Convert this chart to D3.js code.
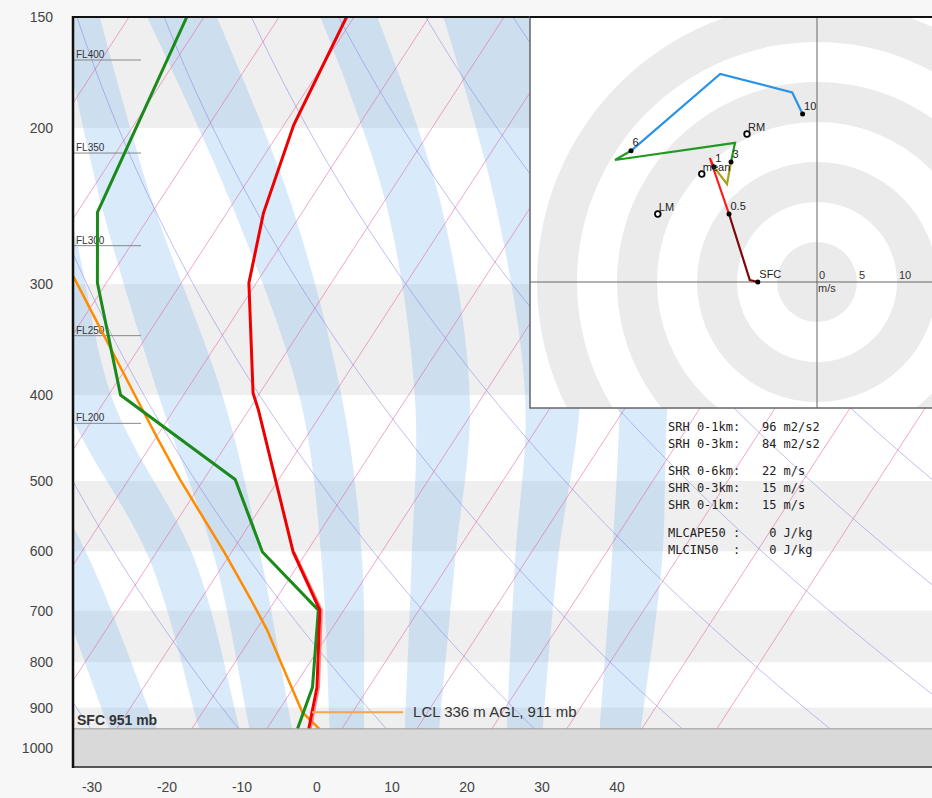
<!DOCTYPE html>
<html>
<head>
<meta charset="utf-8">
<script src="https://cdn.jsdelivr.net/npm/d3@7"></script>
<style>
  body { margin: 0; background: #f7f7f7; }
  text { font-family: Arial, "Liberation Sans", sans-serif; }
</style>
</head>
<body>
<svg id="chart" width="932" height="798"></svg>
<script>
// Axis ticks
var pressureTicks = [150, 200, 300, 400, 500, 600, 700, 800, 900, 1000];
var tempTicks = [-30, -20, -10, 0, 10, 20, 30, 40];
var stripePairs = [[150, 200], [300, 400], [500, 600], [700, 800], [900, 1000]];

// Sounding (hPa, degC)
var tempPressure = [150, 198.5, 249.5, 299, 398, 416, 601, 699, 854, 951];
var tempValues = [-61.0, -58.7, -55.1, -51.0, -40.9, -38.7, -21.8, -13.2, -6.9, -4.4];
var virtPressure = [601, 699, 854, 951];
var virtValues = [-21.6, -12.9, -6.6, -4.1];
var dewPressure = [150, 249, 299, 400, 498, 601, 699, 854, 951];
var dewValues = [-82.3, -77.3, -71.2, -58.4, -35.8, -25.9, -13.4, -7.5, -5.9];
var parcelPressure = [951, 911, 800, 736, 678, 600, 497, 447, 400, 290];
var parcelValues = [-3.0, -6.7, -13.9, -18.5, -23.5, -31.1, -43.3, -49.8, -56.5, -75.8];

var surfacePressure = 951;
var lclPressure = 911;
var lclText = "LCL 336 m AGL, 911 mb";

// Flight levels
var flNames = ["FL400", "FL350", "FL300", "FL250", "FL200"];
var flPressure = [167.7, 213.5, 271.5, 342.9, 430.5];

// Background lines
var isotherms = d3.range(-130, 60, 10);
var dryAdiabats = d3.range(-50, 250, 20);
// moist adiabat shading: edge temperatures (degC) at these pressures
var bandPressure = [150, 241.2, 405.2, 613.9, 951, 1050];
var bandLeft = [
  [-133.9, -107.4, -79.4, -54.2, -31.0, -25.6],
  [-115.2, -88.7, -65.4, -40.2, -19.0, -14.1],
  [-99.2, -78.0, -52.7, -31.5, -12.3, -7.9],
  [-87.6, -60.7, -34.0, -17.3, -1.6, 2.0],
  [-64.5, -40.0, -18.7, -5.3, 8.4, 11.5],
  [-48.1, -25.4, -4.0, 8.5, 22.0, 25.1],
  [-32.5, -8.7, 8.6, 21.4, 34.4, 37.4]
];
var bandRight = [
  [-128.5, -102.0, -73.4, -48.2, -24.7, -19.3],
  [-109.9, -82.7, -59.0, -34.2, -13.6, -8.9],
  [-93.9, -71.1, -44.2, -25.3, -6.6, -2.2],
  [-78.3, -52.7, -28.4, -11.9, 3.0, 6.5],
  [-56.9, -32.7, -11.4, 0.5, 13.0, 15.9],
  [-36.5, -14.7, 3.3, 14.2, 26.8, 29.7],
  [-19.2, 0.6, 15.0, 28.1, 39.9, 42.7]
];

// Hodograph (km, m/s)
var hodoHeight = [0, 0.1, 0.5, 0.95, 1, 2, 3, 4, 5, 6, 8, 9, 10];
var hodoU = [-7.4, -8.4, -11.0, -13.4, -12.9, -11.25, -10.75, -10.25, -25.25, -23.25, -12.1, -3.1, -1.8];
var hodoV = [0, 0.25, 8.5, 15.5, 14.4, 12.25, 15.0, 17.4, 15.25, 16.4, 26.0, 23.7, 21.0];
var hodoSegments = [[0, 0.5, "#7a0a0a"], [0.5, 1, "#ff1a1a"], [1, 3, "#a8a020"], [3, 6, "#209a20"], [6, 10, "#2a93e8"]];
var hodoMarks = [0, 0.5, 1, 3, 6, 10];
var hodoMarkLabels = ["SFC", "0.5", "1", "3", "6", "10"];
var stormNames = ["RM", "mean", "LM"];
var stormU = [-8.75, -14.4, -19.9];
var stormV = [18.5, 13.5, 8.5];
var ringSpeeds = [5, 10, 15, 20, 25, 30, 35, 40];
var ringLabels = [0, 5, 10];

var statLines = [
  ["SRH 0-1km:   96 m2/s2", 0],
  ["SRH 0-3km:   84 m2/s2", 1],
  ["SHR 0-6km:   22 m/s", 2.55],
  ["SHR 0-3km:   15 m/s", 3.55],
  ["SHR 0-1km:   15 m/s", 4.55],
  ["MLCAPE50 :    0 J/kg", 6.15],
  ["MLCIN50  :    0 J/kg", 7.15]
];

// ---- layout
var plotLeft = 73, plotTop = 17, plotBottom = 767, plotRight = 940;
var svg = d3.select("#chart");

var y = d3.scaleLog().domain([150, 1050]).range([plotTop, plotBottom]);
var x = d3.scaleLinear().domain([-30, 40]).range([92, 617]);
var skew = 1 / Math.tan(57 * Math.PI / 180);
function sx(t, p) { return x(t) + skew * (y(1050) - y(p)); }

svg.append("defs").append("clipPath").attr("id", "plotclip")
  .append("rect").attr("x", plotLeft).attr("y", plotTop)
  .attr("width", plotRight - plotLeft).attr("height", plotBottom - plotTop);

var plot = svg.append("g").attr("clip-path", "url(#plotclip)");

plot.append("rect").attr("x", plotLeft).attr("y", plotTop)
  .attr("width", plotRight - plotLeft).attr("height", plotBottom - plotTop)
  .style("fill", "#fff");

plot.selectAll(".stripe").data(stripePairs).enter().append("rect")
  .attr("x", plotLeft).attr("width", plotRight - plotLeft)
  .attr("y", d => y(d[0])).attr("height", d => y(d[1]) - y(d[0]))
  .style("fill", "#efefef");

var tpLine = d3.line().x(d => sx(d[0], d[1])).y(d => y(d[1]));
var bandEdge = d3.line().x(d => sx(d[0], d[1])).y(d => y(d[1])).curve(d3.curveCatmullRom);

// moist adiabat bands
plot.selectAll(".moist").data(bandLeft).enter().append("path")
  .attr("d", function(left, i) {
    var a = left.map((t, j) => [t, bandPressure[j]]);
    var b = bandRight[i].map((t, j) => [t, bandPressure[j]]).reverse();
    return bandEdge(a) + "L" + bandEdge(b).slice(1) + "Z";
  })
  .style("fill", "rgb(120,180,240)").style("fill-opacity", 0.28);

// isotherms
plot.selectAll(".iso").data(isotherms).enter().append("line")
  .attr("x1", d => sx(d, 1050)).attr("y1", y(1050))
  .attr("x2", d => sx(d, 150)).attr("y2", y(150))
  .style("stroke", "#e0609f").style("stroke-opacity", 0.55).style("stroke-width", 1);

// dry adiabats
plot.selectAll(".dry").data(dryAdiabats).enter().append("path")
  .attr("d", function(th) {
    var pts = d3.range(1050, 149, -10).map(function(p) {
      return [(th + 273.15) * Math.pow(p / 1000, 0.286) - 273.15, p];
    });
    return tpLine(pts);
  })
  .style("fill", "none").style("stroke", "#7f7fdf").style("stroke-opacity", 0.5).style("stroke-width", 1);

// flight levels
flPressure.forEach(function(p, i) {
  plot.append("line").attr("x1", plotLeft).attr("x2", 141).attr("y1", y(p)).attr("y2", y(p))
    .style("stroke", "#888").style("stroke-width", 1);
  plot.append("text").attr("x", 76).attr("y", y(p) - 2).text(flNames[i])
    .style("font-size", "10px").style("fill", "#333");
});

function profile(ps, ts) { return ps.map((p, i) => [ts[i], p]); }

plot.append("path").attr("d", tpLine(profile(parcelPressure, parcelValues)))
  .style("fill", "none").style("stroke", "#ff8c00").style("stroke-width", 2.5);
plot.append("path").attr("d", tpLine(profile(virtPressure, virtValues)))
  .style("fill", "none").style("stroke", "#ff6666").style("stroke-width", 1.5).style("stroke-opacity", 0.8);
plot.append("path").attr("d", tpLine(profile(dewPressure, dewValues)))
  .style("fill", "none").style("stroke", "#1a8a1a").style("stroke-width", 3);
plot.append("path").attr("d", tpLine(profile(tempPressure, tempValues)))
  .style("fill", "none").style("stroke", "#ee0000").style("stroke-width", 3);

// LCL marker
var lclTemp = d3.scaleLog().domain([854, 951]).range([-6.9, -4.4])(lclPressure);
var lclX = sx(lclTemp, lclPressure);
plot.append("line").attr("x1", lclX).attr("x2", lclX + 91)
  .attr("y1", y(lclPressure)).attr("y2", y(lclPressure))
  .style("stroke", "#f5a54a").style("stroke-width", 2);
plot.append("text").attr("x", lclX + 101).attr("y", y(lclPressure) + 5)
  .text(lclText).style("font-size", "15px").style("fill", "#333");

// ground
plot.append("rect").attr("x", plotLeft).attr("width", plotRight - plotLeft)
  .attr("y", y(surfacePressure)).attr("height", plotBottom - y(surfacePressure))
  .style("fill", "#d9d9d9").style("stroke", "#999").style("stroke-width", 1);
plot.append("text").attr("x", 77).attr("y", y(surfacePressure) - 4)
  .text("SFC " + surfacePressure + " mb")
  .style("font-size", "14px").style("font-weight", "bold").style("fill", "#333");

// stats
var stats = plot.append("g").attr("transform", "translate(668,431)");
stats.selectAll("text").data(statLines).enter().append("text")
  .attr("x", 0).attr("y", d => d[1] * 17.2)
  .style("white-space", "pre")
  .style("font-family", "'DejaVu Sans Mono', monospace").style("font-size", "12px").style("fill", "#222")
  .text(d => d[0]);

// borders
svg.append("line").attr("x1", plotLeft).attr("x2", 932).attr("y1", plotTop).attr("y2", plotTop)
  .style("stroke", "#111").style("stroke-width", 2);
svg.append("line").attr("x1", plotLeft).attr("x2", 932).attr("y1", plotBottom).attr("y2", plotBottom)
  .style("stroke", "#555").style("stroke-width", 2);
svg.append("line").attr("x1", plotLeft).attr("x2", plotLeft).attr("y1", plotTop - 1).attr("y2", plotBottom + 1)
  .style("stroke", "#111").style("stroke-width", 2.5);

// axes labels
svg.selectAll(".plab").data(pressureTicks).enter().append("text")
  .attr("x", 53).attr("y", d => y(d) + 5).attr("text-anchor", "end")
  .style("font-size", "14px").style("fill", "#444").text(d => d);
svg.selectAll(".tlab").data(tempTicks).enter().append("text")
  .attr("x", d => x(d)).attr("y", 792).attr("text-anchor", "middle")
  .style("font-size", "14px").style("fill", "#444").text(d => d);

// ---- hodograph
var hx0 = 530, hy0 = 17, hy1 = 408;
var cx = 817, cy = 282, ppm = 8;
svg.append("defs").append("clipPath").attr("id", "hodoclip")
  .append("rect").attr("x", hx0).attr("y", hy0).attr("width", 420).attr("height", hy1 - hy0);
var hodo = svg.append("g").attr("clip-path", "url(#hodoclip)");
hodo.append("rect").attr("x", hx0).attr("y", hy0).attr("width", 420).attr("height", hy1 - hy0).style("fill", "#fff");
hodo.selectAll(".ring").data(ringSpeeds.slice().reverse()).enter().append("circle")
  .attr("cx", cx).attr("cy", cy).attr("r", d => d * ppm)
  .style("fill", d => (d / 5) % 2 === 1 ? "#ebebeb" : "#fff");
hodo.append("line").attr("x1", cx).attr("x2", cx).attr("y1", hy0).attr("y2", hy1).style("stroke", "#666");
hodo.append("line").attr("x1", hx0).attr("x2", 940).attr("y1", cy).attr("y2", cy).style("stroke", "#666");
hodo.selectAll(".rlab").data(ringLabels).enter().append("text")
  .attr("x", d => cx + d * ppm + 2).attr("y", cy - 3).text(d => d)
  .style("font-size", "11px").style("fill", "#333");
hodo.append("text").attr("x", cx + 1).attr("y", cy + 10).text("m/s").style("font-size", "11px").style("fill", "#333");

var hu = d3.scaleLinear().domain([0, 1]).range([cx, cx + ppm]);
var hv = d3.scaleLinear().domain([0, 1]).range([cy, cy - ppm]);
var hodoLine = d3.line().x(d => hu(d.u)).y(d => hv(d.v));
var hodoPts = hodoHeight.map((h, i) => ({ h: h, u: hodoU[i], v: hodoV[i] }));

hodoSegments.forEach(function(s) {
  var pts = hodoPts.filter(d => d.h >= s[0] && d.h <= s[1]);
  hodo.append("path").attr("d", hodoLine(pts))
    .style("fill", "none").style("stroke", s[2]).style("stroke-width", 2.2);
});
hodoMarks.forEach(function(h, i) {
  var d = hodoPts.find(q => q.h === h);
  hodo.append("circle").attr("cx", hu(d.u)).attr("cy", hv(d.v)).attr("r", 2.5).style("fill", "#000");
  hodo.append("text").attr("x", hu(d.u) + 1.5).attr("y", hv(d.v) - 4.5).text(hodoMarkLabels[i])
    .style("font-size", "11px").style("fill", "#222");
});
stormNames.forEach(function(n, i) {
  hodo.append("circle").attr("cx", hu(stormU[i])).attr("cy", hv(stormV[i])).attr("r", 2.8)
    .style("fill", "#fff").style("stroke", "#000").style("stroke-width", 1.8);
  hodo.append("text").attr("x", hu(stormU[i]) + 1).attr("y", hv(stormV[i]) - 3.5).text(n)
    .style("font-size", "11px").style("fill", "#222");
});
svg.append("rect").attr("x", hx0).attr("y", hy0).attr("width", 420).attr("height", hy1 - hy0)
  .style("fill", "none").style("stroke", "#666").style("stroke-width", 1.5);
svg.append("line").attr("x1", hx0).attr("x2", 932).attr("y1", plotTop).attr("y2", plotTop)
  .style("stroke", "#111").style("stroke-width", 2);
</script>
</body>
</html>
